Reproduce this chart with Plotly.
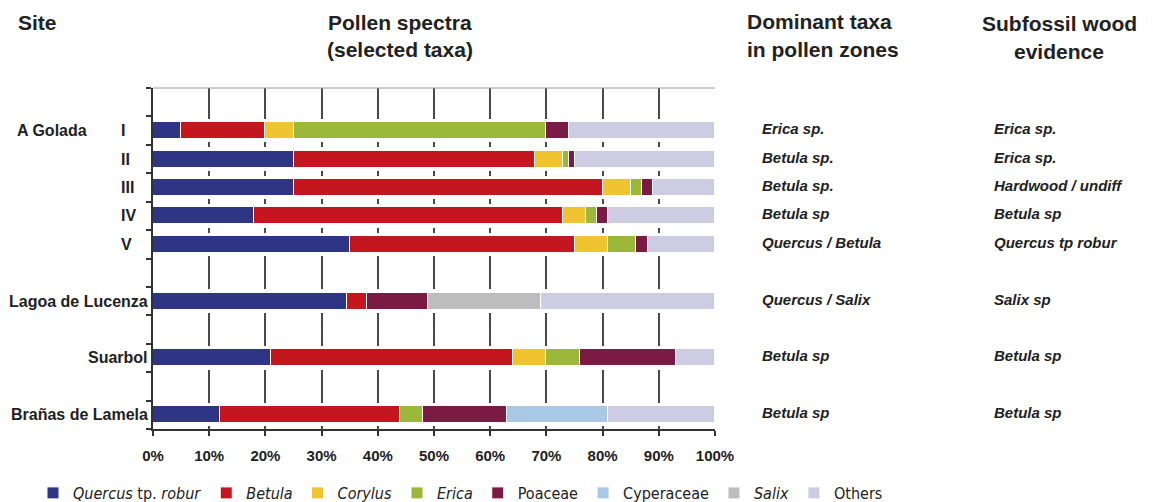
import plotly.graph_objects as go

# ---------------- data ----------------
row_labels = ["I", "II", "III", "IV", "V", "Lagoa de Lucenza", "Suarbol", "Brañas de Lamela"]
row_slots = [1, 2, 3, 4, 5, 7, 9, 11]          # category slots on the vertical axis
zone_rows = 5                                    # first 5 rows are zones of A Golada
site_group = "A Golada"

taxa_names = ["<i>Quercus</i> tp. <i>robur</i>", "<i>Betula</i>", "<i>Corylus</i>", "<i>Erica</i>",
              "Poaceae", "Cyperaceae", "<i>Salix</i>", "Others"]
quercus    = [5, 25, 25, 18, 35, 34.5, 21, 12]
betula     = [15, 43, 55, 55, 40, 3.5, 43, 32]
corylus    = [5, 5, 5, 4, 6, 0, 6, 0]
erica      = [45, 1, 2, 2, 5, 0, 6, 4]
poaceae    = [4, 1, 2, 2, 2, 11, 17, 15]
cyperaceae = [0, 0, 0, 0, 0, 0, 0, 18]
salix      = [0, 0, 0, 0, 0, 20, 0, 0]
others     = [26, 25, 11, 19, 12, 31, 7, 19]
series = [quercus, betula, corylus, erica, poaceae, cyperaceae, salix, others]

dominant = ["Erica sp.", "Betula sp.", "Betula sp.", "Betula sp", "Quercus / Betula",
            "Quercus / Salix", "Betula sp", "Betula sp"]
wood = ["Erica sp.", "Erica sp.", "Hardwood / undiff", "Betula sp", "Quercus tp robur",
        "Salix sp", "Betula sp", "Betula sp"]

x_ticks = list(range(0, 101, 10))

# ---------------- style ----------------
colors = ["#2e3585", "#c4161e", "#f0c330", "#9cb83a", "#7b1a42", "#a9c8e6", "#bdbdbd", "#cdcce3"]
FONT = "Liberation Sans, Arial, sans-serif"
NARROW = "Liberation Sans Narrow, Arial Narrow, DejaVu Sans Condensed, sans-serif"

fig = go.Figure()

# white halo bars (hide gridlines around the bars)
fig.add_trace(go.Bar(
    y=row_slots, x=[sum(s[i] for s in series) for i in range(len(row_slots))],
    orientation="h", width=0.82, marker=dict(color="white", line=dict(width=0)),
    showlegend=False, hoverinfo="skip", yaxis="y"))

for name, vals, col in zip(taxa_names, series, colors):
    fig.add_trace(go.Bar(
        y=row_slots, x=[v if v else None for v in vals], name=name,
        orientation="h", width=0.6, yaxis="y2",
        marker=dict(color=col, line=dict(color="white", width=1))))

L, R, T, B = 153, 438, 88, 73
W, H = 1153, 502
pw, ph = W - L - R, H - T - B

def px_x(x):
    return (x - L) / pw

def px_y(y):
    return (H - B - y) / ph

ann = []
lab_font = dict(family=FONT, size=16, color="#222")
ann.append(dict(text="<b>%s</b>" % site_group, x=px_x(15), xref="paper", xanchor="left",
                y=row_slots[0], yref="y", yanchor="middle", showarrow=False, font=lab_font))
for i, (lab, slot) in enumerate(zip(row_labels, row_slots)):
    if i < zone_rows:
        ann.append(dict(text="<b>%s</b>" % lab, x=px_x(119), xref="paper", xanchor="left",
                        y=slot, yref="y", yanchor="middle", showarrow=False, font=lab_font))
    else:
        ann.append(dict(text="<b>%s</b>" % lab, x=px_x(150), xref="paper", xanchor="right",
                        y=slot, yref="y", yanchor="middle", showarrow=False, font=lab_font))
    ann.append(dict(text="<b><i>%s</i></b>" % dominant[i], x=px_x(760), xref="paper", xanchor="left",
                    y=slot, yref="y", yanchor="middle", showarrow=False, yshift=2,
                    font=dict(family=FONT, size=15, color="#222")))
    ann.append(dict(text="<b><i>%s</i></b>" % wood[i], x=px_x(992), xref="paper", xanchor="left",
                    y=slot, yref="y", yanchor="middle", showarrow=False, yshift=2,
                    font=dict(family=FONT, size=15, color="#222")))

# headers
hfont = dict(family=FONT, size=21, color="#222")
headers = [("Site", 16, 23, "left"),
           ("Pollen spectra", 400, 23, "center"), ("(selected taxa)", 400, 49, "center"),
           ("Dominant taxa", 745, 22, "left"), ("in pollen zones", 745, 49, "left"),
           ("Subfossil wood", 1059, 24, "center"), ("evidence", 1059, 51, "center")]
for txt, hx, hy, anc in headers:
    ann.append(dict(text="<b>%s</b>" % txt, x=px_x(hx), xref="paper", xanchor=anc,
                    y=px_y(hy), yref="paper", yanchor="middle", showarrow=False, font=hfont))

fig.update_layout(
    width=W, height=H, margin=dict(l=L, r=R, t=T, b=B, autoexpand=False),
    paper_bgcolor="white", plot_bgcolor="white",
    barmode="stack", bargap=0,
    showlegend=True,
    legend=dict(orientation="h", x=px_x(888), xanchor="right", y=px_y(493), yanchor="middle",
                font=dict(family=NARROW, size=16, color="#222"), traceorder="normal",
                itemwidth=30, tracegroupgap=0, bgcolor="rgba(0,0,0,0)"),
    xaxis=dict(range=[0, 100], tickvals=x_ticks, ticktext=["<b>%d%%</b>" % v for v in x_ticks],
               showgrid=True, gridcolor="#4a4a4a", gridwidth=1.6,
               showline=True, linecolor="#333", linewidth=1.5,
               ticks="outside", ticklen=5, tickcolor="#333", tickwidth=1.5,
               ticklabelstandoff=7, automargin=False,
               tickfont=dict(family=FONT, size=15, color="#222"), zeroline=False, fixedrange=True),
    yaxis=dict(range=[11.5, -0.5], tickvals=[k + 0.5 for k in range(-1, 12)],
               showticklabels=False, showgrid=False, zeroline=False, automargin=False,
               showline=True, linecolor="#333", linewidth=1.5,
               ticks="outside", ticklen=5, tickcolor="#333", tickwidth=1.5),
    yaxis2=dict(range=[11.5, -0.5], overlaying="y", visible=False, showgrid=False),
    annotations=ann,
    shapes=[dict(type="line", xref="paper", yref="paper", x0=0, x1=1, y0=1, y1=1,
                 line=dict(color="#9a9a9a", width=1))],
)

fig.write_html("out.html", config={"displayModeBar": False},
               post_script="document.body.style.margin='0';document.body.style.overflow='hidden';")
